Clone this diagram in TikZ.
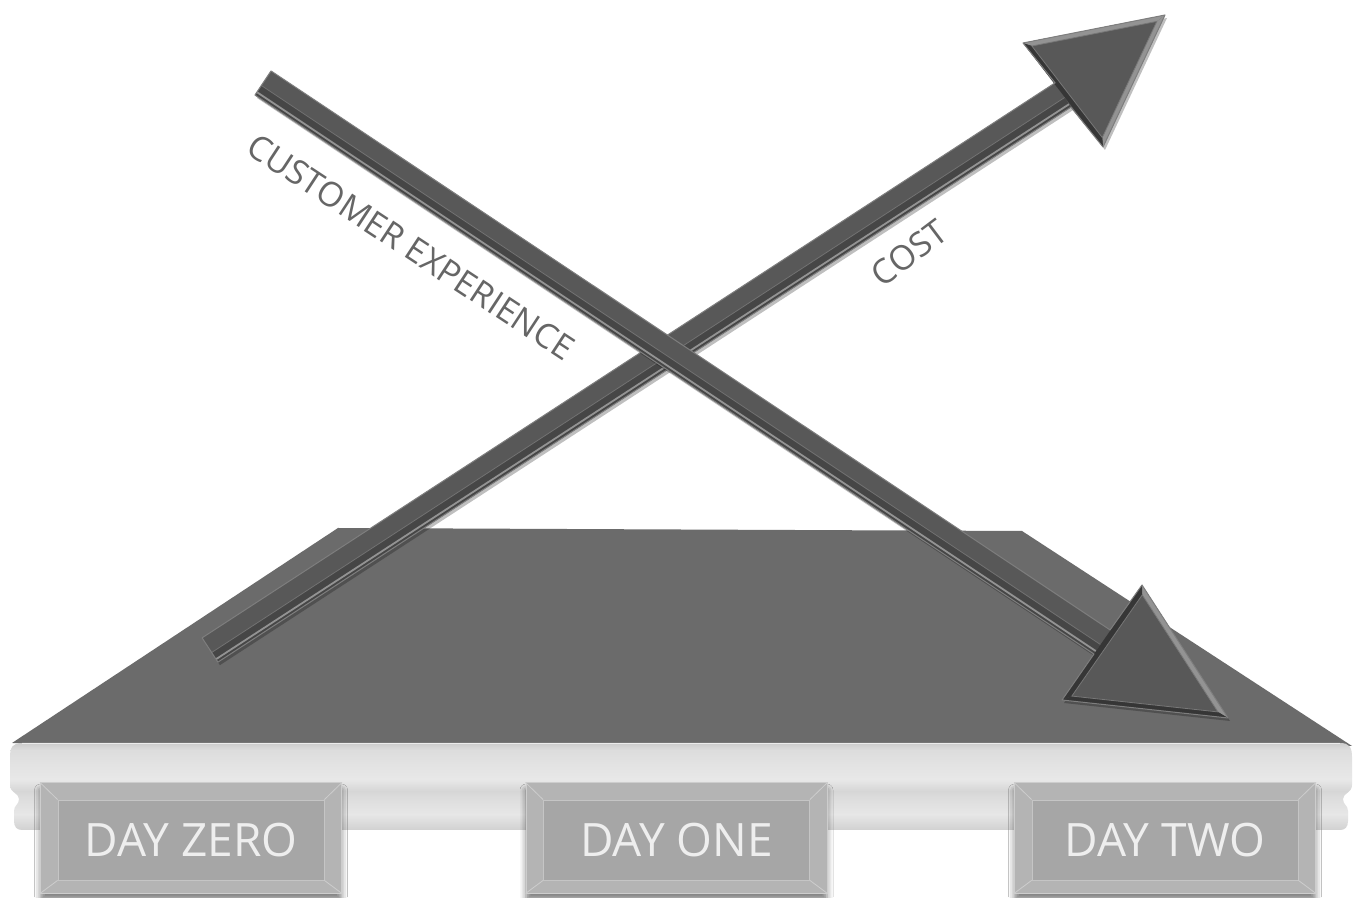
\documentclass[tikz,border=0pt]{standalone}
\usepackage{fontspec}
\setmainfont{Open Sans}
\usetikzlibrary{calc,shadows.blur}
\definecolor{plat}{HTML}{6B6B6B}
\definecolor{arrowface}{HTML}{585858}
\definecolor{arrowdark}{HTML}{464646}
\definecolor{arrowedge}{HTML}{7E7E7E}
\definecolor{bevlight}{HTML}{939393}
\definecolor{bevdark}{HTML}{363636}
\definecolor{boxouter}{HTML}{B4B4B4}
\definecolor{boxinner}{HTML}{A6A6A6}
\definecolor{boxline}{HTML}{CDCDCD}
\definecolor{daytext}{HTML}{EEEEEE}
\definecolor{labeltext}{HTML}{666666}
\pgfdeclareverticalshading{railshade}{100bp}{%
 rgb(0bp)=(0.82,0.82,0.82); rgb(25bp)=(0.82,0.82,0.82);
 rgb(34bp)=(0.905,0.905,0.905); rgb(42.5bp)=(0.87,0.87,0.87);
 rgb(47.5bp)=(0.84,0.84,0.84); rgb(54bp)=(0.91,0.91,0.91);
 rgb(62.5bp)=(0.89,0.89,0.89); rgb(71bp)=(0.865,0.865,0.865);
 rgb(75bp)=(0.80,0.80,0.80); rgb(100bp)=(0.80,0.80,0.80)}
\tikzset{
 dayouter/.style={fill=boxouter, draw=boxline, line width=1pt, inner sep=0pt,
   blur shadow={shadow xshift=0pt, shadow yshift=-7pt, shadow blur radius=6pt, shadow opacity=50}},
 dayinner/.style={fill=boxinner, draw=boxline!80!boxinner, line width=0.8pt, inner sep=0pt,
   text=daytext, font=\fontsize{46}{54}\selectfont},
 axislabel/.style={text=labeltext, font=\fontsize{34}{40}\selectfont, inner sep=0pt},
 arrowshadow/.style={fill=black, opacity=0.25},
}
% #1 prefix, #2 colour of band T--C2
\newcommand{\drawbevarrow}[2]{%
 \coordinate (#1a1) at ($(#1A)!14.5pt!90:(#1B)$);
 \coordinate (#1a2) at ($(#1A)!14.5pt!-90:(#1B)$);
 \coordinate (#1b1) at ($(#1B)!14.5pt!-90:(#1A)$);
 \coordinate (#1b2) at ($(#1B)!14.5pt!90:(#1A)$);
 \coordinate (#1m1) at ($(#1A)!3pt!-90:(#1B)$);
 \coordinate (#1m2) at ($(#1B)!3pt!90:(#1A)$);
 \coordinate (#1h1) at ($(#1A)!11pt!-90:(#1B)$);
 \coordinate (#1h2) at ($(#1B)!11pt!90:(#1A)$);
 \coordinate (#1G) at ($(#1B)!0.3333!(#1T)$);
 \coordinate (#1iC1) at ($(#1C1)!0.12!(#1G)$);
 \coordinate (#1iC2) at ($(#1C2)!0.12!(#1G)$);
 \coordinate (#1iT) at ($(#1T)!0.12!(#1G)$);
 \fill[arrowshadow, transform canvas={shift={(2pt,-3pt)}}]
   (#1a1)--(#1b1)--(#1C1)--(#1T)--(#1C2)--(#1b2)--(#1a2)--cycle;
 \fill[arrowface] (#1a1)--(#1b1)--(#1C1)--(#1T)--(#1C2)--(#1b2)--(#1a2)--cycle;
 % lower bevel of shaft
 \fill[arrowdark] (#1m1)--(#1m2)--(#1b2)--(#1a2)--cycle;
 \draw[bevlight, line width=1.8pt] (#1h1)--(#1h2);
 \draw[arrowedge!70!arrowface, line width=0.8pt] (#1m1)--(#1m2);
 % head bevel
 \fill[bevlight] (#1C1)--(#1T)--(#1iT)--(#1iC1)--cycle;
 \fill[#2] (#1T)--(#1C2)--(#1iC2)--(#1iT)--cycle;
 \fill[bevdark] (#1C2)--(#1C1)--(#1iC1)--(#1iC2)--cycle;
 \draw[bevlight!70!bevdark, line width=0.8pt] (#1iC1)--(#1iT)--(#1iC2)--cycle;
 \draw[arrowedge, line width=1pt, line join=round]
   (#1a1)--(#1b1)--(#1C1)--(#1T)--(#1C2)--(#1b2)--(#1a2)--cycle;
}
\begin{document}
\begin{tikzpicture}[x=1pt,y=1pt]
\useasboundingbox (0,0) rectangle (1360,897);
\fill[white] (0,0) rectangle (1360,897);

% platform top
\fill[plat] (338,369) -- (1022,366) -- (1352,151) -- (12,154) -- cycle;

% rail
\shade[shading=railshade]
 (22,154) -- (1340,154)
 .. controls (1349,154) and (1352,150) .. (1352,140) -- (1352,112)
 .. controls (1352,104) and (1343,104) .. (1343,98)
 .. controls (1343,92) and (1348,92) .. (1348,86) -- (1348,76)
 .. controls (1348,70) and (1345,67) .. (1340,67) -- (22,67)
 .. controls (17,67) and (14,70) .. (14,76) -- (14,86)
 .. controls (14,92) and (19,92) .. (19,98)
 .. controls (19,104) and (10,104) .. (10,112) -- (10,140)
 .. controls (10,150) and (13,154) .. (22,154) -- cycle;
\draw[white!85!gray, line width=1pt] (22,153.5) -- (1340,153.5);

% day boxes
\foreach \nm/\cx/\txt in {zero/191/DAY ZERO, one/676.5/DAY ONE, two/1165/DAY TWO}{
 \node[dayouter, minimum width=301pt, minimum height=110pt] (\nm o) at (\cx,59) {};
 \node[dayinner, minimum width=266pt, minimum height=80pt] (\nm i) at (\cx,57) {\txt};
 \draw[boxline, line width=0.8pt] (\nm o.north west)--(\nm i.north west)
   (\nm o.north east)--(\nm i.north east)
   (\nm o.south west)--(\nm i.south west)
   (\nm o.south east)--(\nm i.south east);
}

% COST arrow (drawn first: lies below)
\coordinate (cA) at (210,247);
\coordinate (cB) at (1063,802);
\coordinate (cC1) at (1023,854);
\coordinate (cT) at (1165,882);
\coordinate (cC2) at (1103,750);
\drawbevarrow{c}{bevlight}

% CUSTOMER EXPERIENCE arrow (on top)
\coordinate (eA) at (263,814);
\coordinate (eB) at (1102,255);
\coordinate (eC1) at (1142,312);
\coordinate (eT) at (1228,179);
\coordinate (eC2) at (1062,197);
\drawbevarrow{e}{bevdark}

% labels
\node[axislabel, rotate=-33.3] (cxlabel) at (411,650) {CUSTOMER EXPERIENCE};
\node[axislabel, rotate=37] (costlabel) at (909,644) {COST};
\end{tikzpicture}
\end{document}
